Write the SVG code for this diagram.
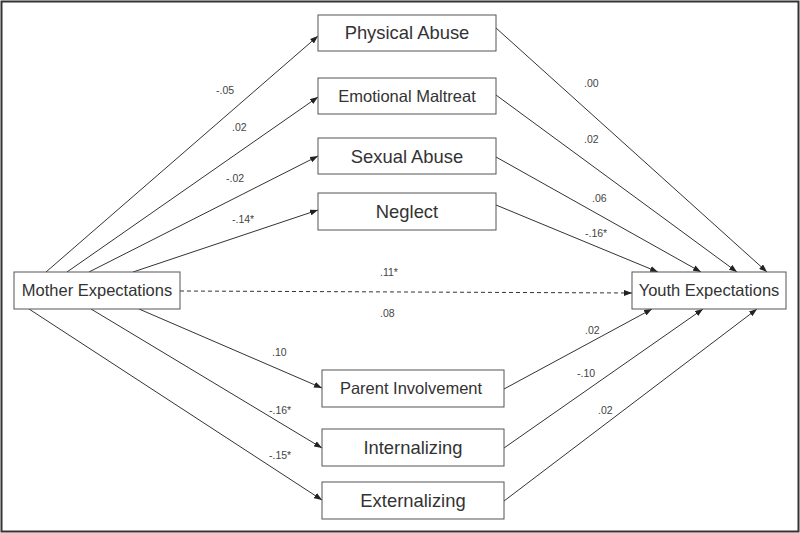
<svg xmlns="http://www.w3.org/2000/svg" width="800" height="533" viewBox="0 0 800 533">
<style>
.box{fill:#fff;stroke:#555;stroke-width:1}
.nt{font-family:"Liberation Sans",Arial,sans-serif;fill:#333;text-anchor:middle}
.big{font-size:18.4px}
.sm{font-size:16.5px}
.el{font-family:"Liberation Sans",Arial,sans-serif;font-size:10.5px;fill:#444}
.ln{stroke:#333;stroke-width:1;fill:none;marker-end:url(#ah)}
.dash{stroke-dasharray:4 3}
</style>
<defs>
<marker id="ah" viewBox="0 0 8 6" refX="8" refY="3" markerWidth="8" markerHeight="6" markerUnits="userSpaceOnUse" orient="auto">
<path d="M0,0 L8,3 L0,6 z" fill="#222"/>
</marker>
</defs>
<rect x="0" y="0" width="800" height="533" fill="#fff"/>
<rect x="1.5" y="1.5" width="797" height="530" fill="none" stroke="#333" stroke-width="2"/>
<g id="connectors">
<line class="ln" x1="46" y1="272" x2="318" y2="36"/>
<line class="ln" x1="67" y1="272" x2="318" y2="97"/>
<line class="ln" x1="89" y1="272" x2="318" y2="156"/>
<line class="ln" x1="133" y1="272" x2="318" y2="210"/>
<line class="ln dash" x1="180" y1="291" x2="632" y2="293"/>
<line class="ln" x1="139" y1="309" x2="322" y2="388"/>
<line class="ln" x1="91" y1="309" x2="322" y2="448"/>
<line class="ln" x1="29" y1="309" x2="322" y2="500"/>
<line class="ln" x1="496" y1="28" x2="767" y2="272"/>
<line class="ln" x1="496" y1="95" x2="737" y2="272"/>
<line class="ln" x1="496" y1="157" x2="701" y2="272"/>
<line class="ln" x1="496" y1="205" x2="658" y2="272"/>
<line class="ln" x1="504" y1="389" x2="652" y2="309"/>
<line class="ln" x1="504" y1="448" x2="703" y2="309"/>
<line class="ln" x1="504" y1="501" x2="757" y2="309"/>
<text class="el" x="216" y="94">-.05</text>
<text class="el" x="232" y="131">.02</text>
<text class="el" x="226" y="182">-.02</text>
<text class="el" x="232" y="223">-.14*</text>
<text class="el" x="584" y="87">.00</text>
<text class="el" x="584" y="143">.02</text>
<text class="el" x="592" y="202">.06</text>
<text class="el" x="585" y="237">-.16*</text>
<text class="el" x="380" y="276">.11*</text>
<text class="el" x="380" y="317">.08</text>
<text class="el" x="272" y="356">.10</text>
<text class="el" x="269" y="414">-.16*</text>
<text class="el" x="269" y="459">-.15*</text>
<text class="el" x="585" y="334">.02</text>
<text class="el" x="577" y="377">-.10</text>
<text class="el" x="598" y="414">.02</text>
</g>
<g id="mother"><rect class="box" x="14" y="272" width="166" height="37"/><text class="nt sm" x="97" y="296">Mother Expectations</text></g>
<g id="youth"><rect class="box" x="632" y="272" width="154" height="37"/><text class="nt sm" x="709" y="296">Youth Expectations</text></g>
<g id="physical"><rect class="box" x="318" y="15" width="178" height="36"/><text class="nt big" x="407" y="39">Physical Abuse</text></g>
<g id="emotional"><rect class="box" x="318" y="78" width="178" height="36"/><text class="nt sm" x="407" y="102">Emotional Maltreat</text></g>
<g id="sexual"><rect class="box" x="318" y="138" width="178" height="36"/><text class="nt big" x="407" y="163">Sexual Abuse</text></g>
<g id="neglect"><rect class="box" x="318" y="193" width="178" height="37"/><text class="nt big" x="407" y="218">Neglect</text></g>
<g id="parent"><rect class="box" x="322" y="370" width="182" height="37"/><text class="nt sm" x="411" y="394">Parent Involvement</text></g>
<g id="internalizing"><rect class="box" x="322" y="429" width="182" height="37"/><text class="nt big" x="413" y="454">Internalizing</text></g>
<g id="externalizing"><rect class="box" x="322" y="482" width="182" height="37"/><text class="nt big" x="413" y="507">Externalizing</text></g>
</svg>
